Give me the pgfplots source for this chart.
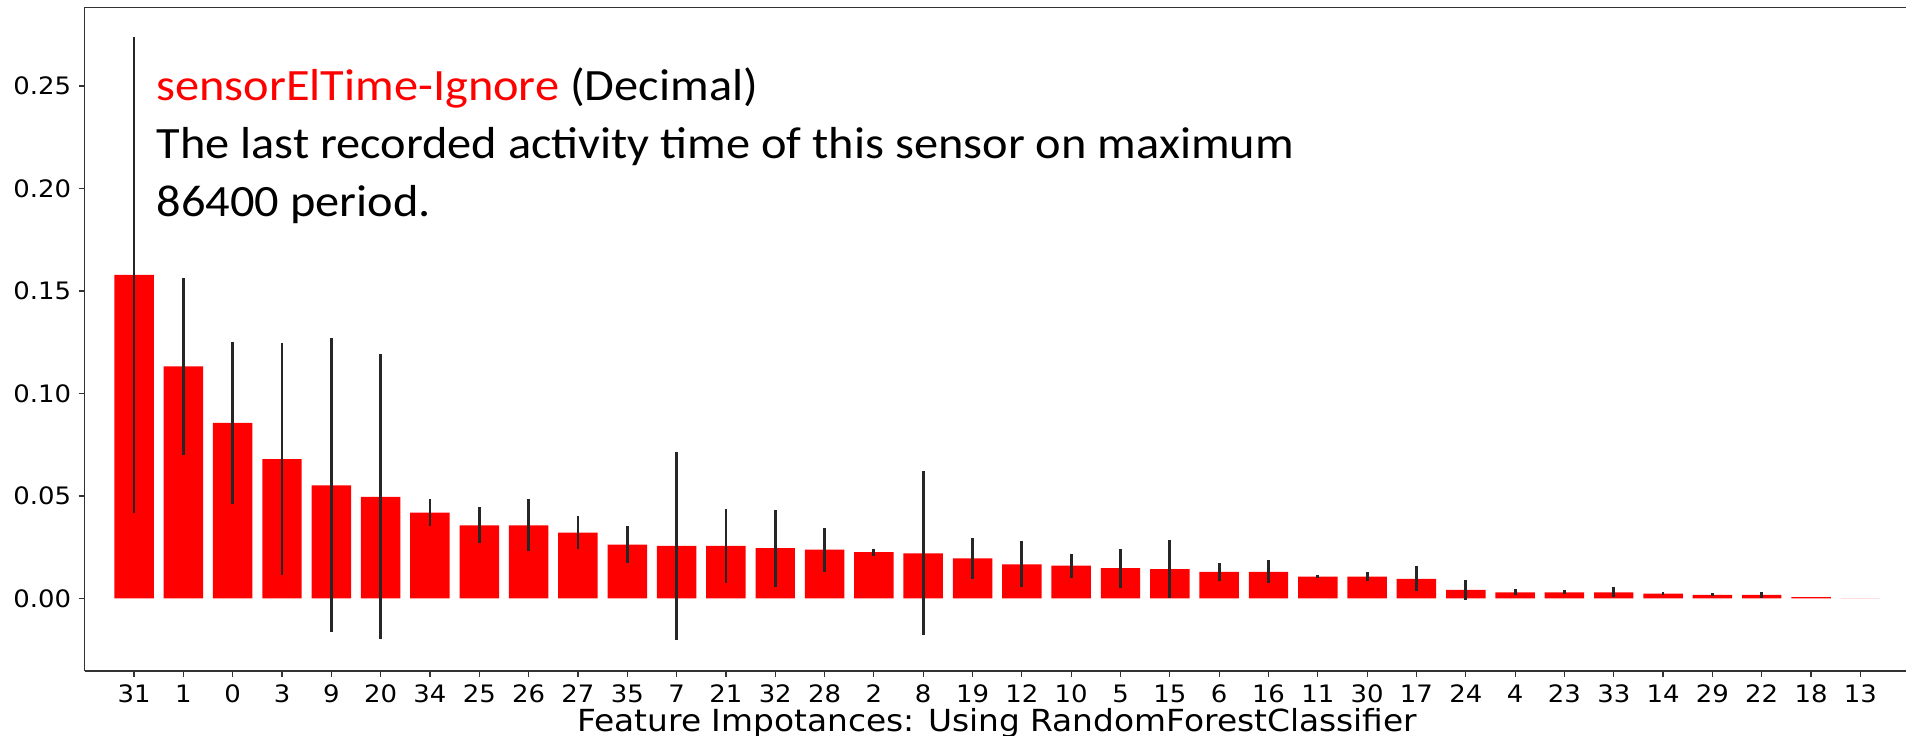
\documentclass[border=0pt]{standalone}
\usepackage{fontspec}
\setmainfont{DejaVu Sans}
\newfontfamily\carlito{Carlito}
\usepackage{pgfplots}
\usepackage{pgfplotstable}
\pgfplotsset{compat=1.18}
\pgfplotstableread{
idx val err
0 0.1579 0.1160
1 0.1132 0.0433
2 0.0856 0.0397
3 0.0680 0.0566
4 0.0552 0.0717
5 0.0496 0.0696
6 0.0419 0.0065
7 0.0357 0.0088
8 0.0357 0.0127
9 0.0321 0.0082
10 0.0262 0.0091
11 0.0257 0.0459
12 0.0256 0.0180
13 0.0245 0.0188
14 0.0238 0.0107
15 0.0226 0.0017
16 0.0220 0.0400
17 0.0195 0.0098
18 0.0166 0.0112
19 0.0160 0.0059
20 0.0148 0.0095
21 0.0143 0.0140
22 0.0130 0.0044
23 0.0130 0.0056
24 0.0107 0.0006
25 0.0107 0.0020
26 0.0096 0.0060
27 0.0042 0.0048
28 0.0030 0.0015
29 0.0030 0.0009
30 0.0030 0.0024
31 0.0024 0.0006
32 0.0018 0.0007
33 0.0018 0.0015
34 0.0006 0.0000
35 0.0000 0.0000
}\imp
\begin{document}
\begin{tikzpicture}
\begin{axis}[
  scale only axis,
  width=912.5pt, height=331.85pt,
  xmin=-1, xmax=36,
  ymin=-0.0354, ymax=0.2884,
  axis x line*=bottom, axis y line*=left,
  axis line style={-, black!80, line width=0.6pt},
  tick style={black!80, line width=0.6pt},
  tick align=outside, major tick length=3pt,
  xtick pos=bottom, ytick pos=left,
  xtick={0,...,35},
  xticklabels={31,1,0,3,9,20,34,25,26,27,35,7,21,32,28,2,8,19,12,10,5,15,6,16,11,30,17,24,4,23,33,14,29,22,18,13},
  ytick={0,0.05,0.1,0.15,0.2,0.25},
  scaled y ticks=false,
  yticklabel style={/pgf/number format/.cd, fixed, fixed zerofill, precision=2, assume math mode=true},
  ticklabel style={font=\fontsize{12}{14}\selectfont, xscale=1.08},
  xticklabel style={inner sep=0.5pt, yshift=-3.3pt},
  xlabel={Feature Impotances: Using RandomForestClassifier},
  xlabel style={font=\fontsize{15.2}{18}\selectfont, xscale=1.08, inner sep=0pt, at={(axis description cs:0.5,0)}, anchor=base, yshift=-30.2pt},
  clip=false,
  ybar, bar width=0.8,
]
\addplot[fill=red, draw=none, bar shift=0pt,
  error bars/.cd, y dir=both, y explicit, error mark=none,
  error bar style={line width=1.4pt, black!85}]
  table[x=idx, y=val, y error=err] {\imp};
\draw[black!80, line width=0.6pt] (rel axis cs:0,1) -- (rel axis cs:1,1);
\node[anchor=base west, inner sep=0pt, xscale=1.08, font=\carlito\fontsize{22.4}{26}\selectfont] at (rel axis cs:0.0391,0.8603) {\textcolor{red}{sensorElTime-Ignore} (Decimal)};
\node[anchor=base west, inner sep=0pt, xscale=1.08, font=\carlito\fontsize{22.4}{26}\selectfont] at (rel axis cs:0.0391,0.7729) {The last recorded activity time of this sensor on maximum};
\node[anchor=base west, inner sep=0pt, xscale=1.08, font=\carlito\fontsize{22.4}{26}\selectfont] at (rel axis cs:0.0391,0.6855) {86400 period.};
\end{axis}
\pgfresetboundingbox
\path[use as bounding box] (-42.35pt,-32pt) rectangle (910.65pt,335.5pt);
\end{tikzpicture}
\end{document}
